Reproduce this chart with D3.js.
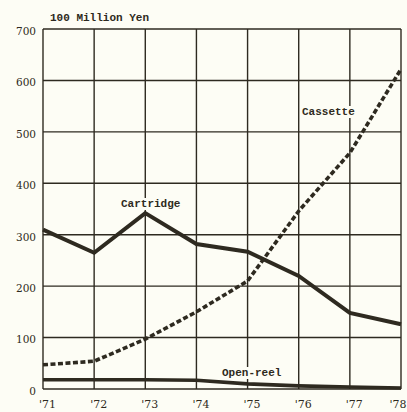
<!DOCTYPE html>
<html>
<head>
<meta charset="utf-8">
<script src="https://cdn.jsdelivr.net/npm/d3@7"></script>
<style>
  html, body { margin: 0; padding: 0; background: #fdfdf5; }
  svg { display: block; }
</style>
</head>
<body>
<svg id="chart" width="407" height="412"></svg>
<script>
// Tape sales by format, 100 million yen
const years = ["'71", "'72", "'73", "'74", "'75", "'76", "'77", "'78"];
const cartridge = [310, 265, 342, 282, 267, 220, 148, 126];
const cassette = [47, 54, 97, 150, 210, 346, 459, 622];
const openReel = [18, 18, 18, 17, 10, 6, 4, 2];
const yTicks = [0, 100, 200, 300, 400, 500, 600, 700];

const ink = "#2e2a20";
const paper = "#fdfdf5";
const svg = d3.select("#chart");
const margin = { left: 43, right: 6, top: 29, bottom: 23 };
const W = 407, H = 412;

const x = d3.scalePoint().domain(years).range([margin.left, W - margin.right]);
const y = d3.scaleLinear().domain([0, 700]).range([H - margin.bottom, margin.top]);

// grid
const grid = svg.append("g").attr("stroke", ink).attr("stroke-width", 1.4);
grid.selectAll("line.h").data(yTicks).join("line")
  .attr("x1", margin.left).attr("x2", W - margin.right)
  .attr("y1", d => y(d)).attr("y2", d => y(d));
grid.selectAll("line.v").data(years).join("line")
  .attr("x1", d => x(d)).attr("x2", d => x(d))
  .attr("y1", y(0)).attr("y2", y(700));

// axis labels
const yAxis = d3.axisLeft(y).tickValues(yTicks).tickSize(0).tickPadding(7);
svg.append("g").attr("transform", `translate(${margin.left},2)`).call(yAxis)
  .call(g => g.select(".domain").remove())
  .selectAll("text")
  .attr("font-family", "DejaVu Serif, serif").attr("font-size", 10.5).attr("fill", ink);

const xAxis = d3.axisBottom(x).tickSize(0).tickPadding(11);
svg.append("g").attr("transform", `translate(0,${y(0)})`).call(xAxis)
  .call(g => g.select(".domain").remove())
  .selectAll("text")
  .attr("dx", (d, i) => i === years.length - 1 ? 0 : 4)
  .attr("text-anchor", (d, i) => i === years.length - 1 ? "end" : "middle")
  .attr("x", (d, i) => i === years.length - 1 ? margin.right - 1 : 0)
  .attr("font-family", "DejaVu Serif, serif").attr("font-size", 11).attr("fill", ink);

svg.append("text").attr("x", 50).attr("y", 21)
  .attr("font-family", "Liberation Mono, monospace").attr("font-weight", "bold")
  .attr("font-size", 11).attr("fill", ink).text("100 Million Yen");

const line = d3.line().x((d, i) => x(years[i])).y(d => y(d));

svg.append("path").datum(cartridge).attr("d", line)
  .attr("fill", "none").attr("stroke", ink).attr("stroke-width", 4).attr("stroke-linejoin", "miter");
svg.append("path").datum(cassette).attr("d", line)
  .attr("fill", "none").attr("stroke", ink).attr("stroke-width", 3.6).attr("stroke-dasharray", "5,2.5");
svg.append("path").datum(openReel).attr("d", line)
  .attr("fill", "none").attr("stroke", ink).attr("stroke-width", 3.6);

// series labels with paper backing
function label(tx, ty, text) {
  const g = svg.append("g");
  const t = g.append("text").attr("x", tx).attr("y", ty)
    .attr("font-family", "Liberation Mono, monospace").attr("font-weight", "bold")
    .attr("font-size", 11).attr("fill", ink).text(text);
  const b = t.node().getBBox();
  g.insert("rect", "text").attr("x", b.x - 2).attr("y", b.y).attr("width", b.width + 4)
    .attr("height", b.height).attr("fill", paper);
}
label(302, 115, "Cassette");
label(121, 207, "Cartridge");
label(222, 376, "Open-reel");
</script>
</body>
</html>
